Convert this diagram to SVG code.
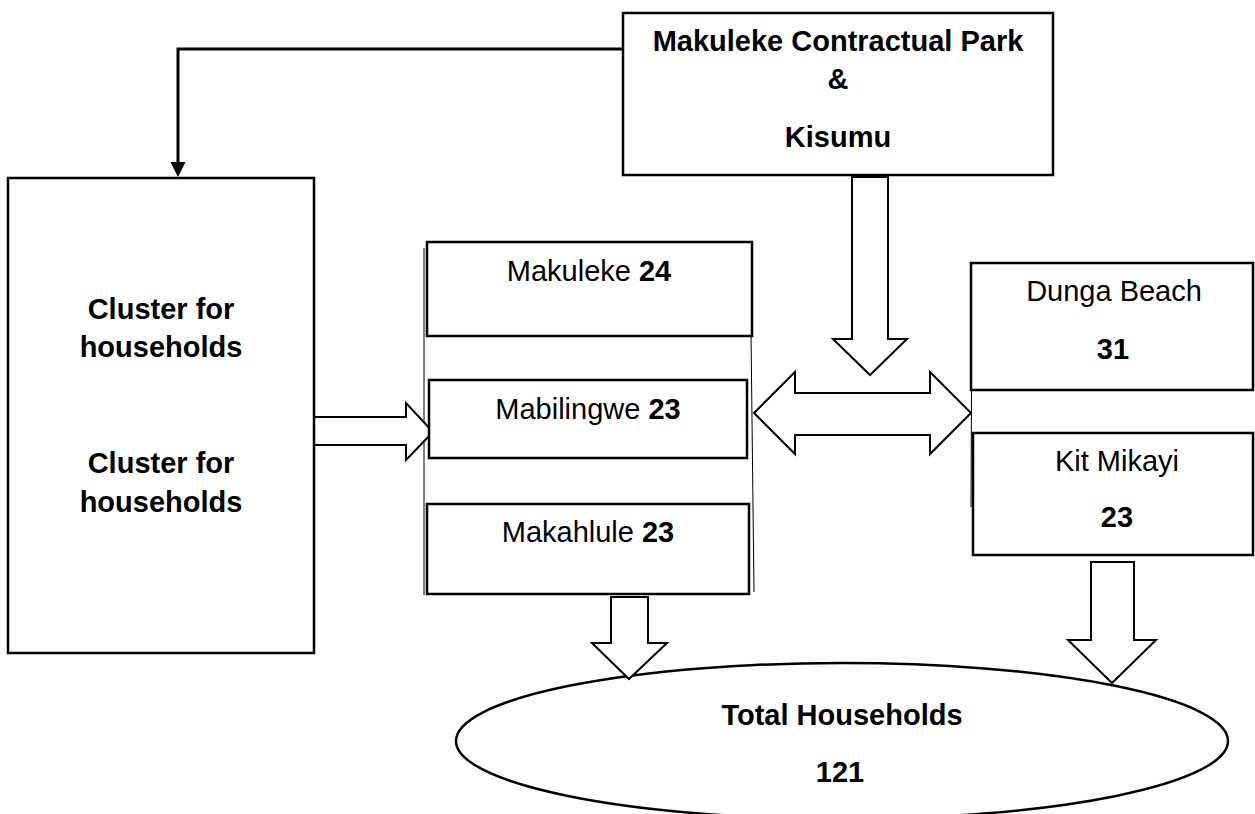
<svg xmlns="http://www.w3.org/2000/svg" width="1255" height="814" viewBox="0 0 1255 814">
  <style>
    .box { fill: #fff; stroke: #000; stroke-width: 2.5; }
    .thin { fill: none; stroke: #000; stroke-width: 1; }
    .blk { fill: #fff; stroke: #000; stroke-width: 2; stroke-linejoin: miter; }
    .wire { fill: none; stroke: #000; stroke-width: 3; }
    text { font-family: "Liberation Sans", Arial, sans-serif; font-size: 29px; text-anchor: middle; fill: #000; }
    .b { font-weight: bold; }
  </style>
  <defs>
    <!-- solid arrowhead; tip sits 7px past the end of the wire -->
    <marker id="arr" markerUnits="userSpaceOnUse" markerWidth="16" markerHeight="16" refX="8" refY="7.5" orient="auto">
      <path d="M0,0 L15,7.5 L0,15 Z" fill="#000"/>
    </marker>
  </defs>

  <rect width="1255" height="814" fill="#fff"/>

  <!-- thin side rules behind the site boxes -->
  <g id="rules">
    <line class="thin" x1="424" y1="248" x2="424" y2="595"/>
    <line class="thin" x1="750" y1="245" x2="754" y2="592"/>
    <line class="thin" x1="972" y1="267" x2="971" y2="507"/>
  </g>

  <g id="total">
    <ellipse class="box" cx="842" cy="741" rx="386" ry="78" stroke-width="2"/>
    <text class="b" x="842" y="725">Total Households</text>
    <text class="b" x="840" y="782">121</text>
  </g>

  <g id="connectors">
    <polyline class="wire" points="623,49 178,49 178,170" marker-end="url(#arr)"/>
    <path class="blk" d="M852,177 L888,177 L888,339 L907,339 L870,375 L833,339 L852,339 Z"/>
    <path class="blk" d="M754,413 L795,372 L795,393 L930,393 L930,372 L971,413 L930,454 L930,435 L795,435 L795,454 Z"/>
    <path class="blk" d="M311,417 L406,417 L406,403 L433,432 L406,460 L406,445 L311,445 Z"/>
    <path class="blk" d="M611,597 L648,597 L648,643 L667,643 L629,679 L592,643 L611,643 Z"/>
    <path class="blk" d="M1091,562 L1134,562 L1134,640 L1156,640 L1112,683 L1068,640 L1091,640 Z"/>
  </g>

  <g id="park">
    <rect class="box" x="623" y="13" width="430" height="162"/>
    <text class="b" x="838" y="51">Makuleke Contractual Park</text>
    <text class="b" x="838" y="89">&amp;</text>
    <text class="b" x="838" y="147">Kisumu</text>
  </g>

  <g id="cluster">
    <rect class="box" x="8" y="178" width="306" height="475"/>
    <text class="b" x="161" y="319">Cluster for</text>
    <text class="b" x="161" y="357">households</text>
    <text class="b" x="161" y="473">Cluster for</text>
    <text class="b" x="161" y="512">households</text>
  </g>

  <g id="makuleke">
    <rect class="box" x="427" y="242" width="325" height="94"/>
    <text x="589" y="281">Makuleke <tspan class="b">24</tspan></text>
  </g>

  <g id="mabilingwe">
    <rect class="box" x="429" y="380" width="318" height="78"/>
    <text x="588" y="419">Mabilingwe <tspan class="b">23</tspan></text>
  </g>

  <g id="makahlule">
    <rect class="box" x="427" y="504" width="322" height="90"/>
    <text x="588" y="542">Makahlule <tspan class="b">23</tspan></text>
  </g>

  <g id="dunga">
    <rect class="box" x="971" y="263" width="282" height="127"/>
    <text x="1114" y="301">Dunga Beach</text>
    <text class="b" x="1113" y="359">31</text>
  </g>

  <g id="kitmikayi">
    <rect class="box" x="973" y="433" width="280" height="122"/>
    <text x="1117" y="471">Kit Mikayi</text>
    <text class="b" x="1117" y="527">23</text>
  </g>
</svg>
